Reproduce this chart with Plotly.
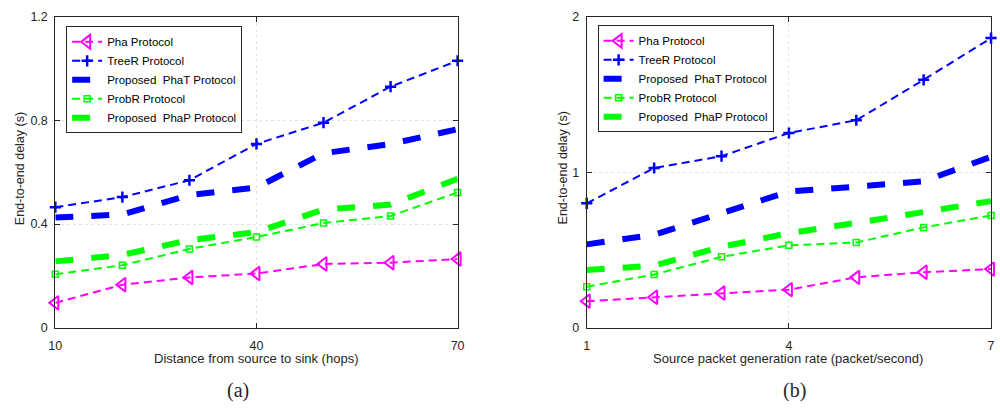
import plotly.graph_objects as go

# x values of the two experiments
hops = [10, 20, 30, 40, 50, 60, 70]
rate = [1, 2, 3, 4, 5, 6, 7]

# (a) end-to-end delay vs. distance (s)
pha_a = [0.096, 0.166, 0.194, 0.209, 0.246, 0.251, 0.265]
treer_a = [0.465, 0.504, 0.569, 0.709, 0.791, 0.930, 1.030]
phat_a = [0.425, 0.437, 0.512, 0.541, 0.673, 0.709, 0.766]
probr_a = [0.206, 0.241, 0.304, 0.350, 0.404, 0.431, 0.522]
phap_a = [0.256, 0.281, 0.338, 0.369, 0.456, 0.475, 0.575]

# (b) end-to-end delay vs. packet generation rate (s)
pha_b = [0.171, 0.196, 0.223, 0.245, 0.324, 0.357, 0.377]
treer_b = [0.800, 1.027, 1.103, 1.252, 1.334, 1.594, 1.862]
phat_b = [0.536, 0.598, 0.736, 0.876, 0.907, 0.942, 1.099]
probr_b = [0.264, 0.342, 0.456, 0.530, 0.548, 0.645, 0.722]
phap_b = [0.371, 0.400, 0.520, 0.608, 0.674, 0.742, 0.814]

names = ["Pha Protocol", "TreeR Protocol", "Proposed  PhaT Protocol",
         "ProbR Protocol", "Proposed  PhaP Protocol"]

MAG, BLUE, GREEN = "#ff00ff", "#0000ff", "#00ff00"
AX = "#262626"
FONT = "Liberation Sans, Arial, sans-serif"
SERIF = "Liberation Serif, Times New Roman, serif"

styles = [
    dict(mode="lines+markers", line=dict(color=MAG, width=2, dash="8px,5px"),
         marker=dict(symbol="triangle-left-open", size=12, color=MAG, line=dict(width=2, color=MAG))),
    dict(mode="lines+markers", line=dict(color=BLUE, width=2, dash="8px,5px"),
         marker=dict(symbol="cross-thin", size=8, color=BLUE, line=dict(width=2.5, color=BLUE))),
    dict(mode="lines", line=dict(color=BLUE, width=6, dash="dash")),
    dict(mode="lines+markers", line=dict(color=GREEN, width=2, dash="8px,5px"),
         marker=dict(symbol="square-open", size=6, color=GREEN, line=dict(width=1.5, color=GREEN))),
    dict(mode="lines", line=dict(color=GREEN, width=6, dash="dash")),
]

fig = go.Figure()

panels = [
    (hops, [pha_a, treer_a, phat_a, probr_a, phap_a], "x", "y", "legend"),
    (rate, [pha_b, treer_b, phat_b, probr_b, phap_b], "x2", "y2", "legend2"),
]
for xs, series, xa, ya, lg in panels:
    for name, ys, st in zip(names, series, styles):
        fig.add_trace(go.Scatter(x=xs, y=ys, name=name, xaxis=xa, yaxis=ya,
                                 legend=lg, cliponaxis=False, **st))

ydom = [81 / 413, 403 / 413]
axis_common = dict(
    showline=True, linecolor=AX, linewidth=1, mirror="allticks",
    ticks="inside", ticklen=5, tickcolor=AX,
    showgrid=True, gridcolor="#e2e2e2", griddash="dot", gridwidth=1,
    zeroline=False, tickfont=dict(family=FONT, size=12.5, color=AX),
)

legend_common = dict(xanchor="left", yanchor="top", bgcolor="white",
                     bordercolor=AX, borderwidth=1, tracegroupgap=0, itemwidth=30,
                     font=dict(family=FONT, size=11.5, color="#000"))

fig.update_layout(
    width=1000, height=413,
    margin=dict(l=0, r=0, t=0, b=0),
    paper_bgcolor="white", plot_bgcolor="white",
    font=dict(family=FONT, color=AX),
    xaxis=dict(domain=[49 / 1000, 457 / 1000], range=[10, 70],
               tickvals=[10, 40, 70], anchor="y", ticklabelstandoff=6, **axis_common),
    yaxis=dict(domain=ydom, range=[0, 1.2], tickvals=[0, 0.4, 0.8, 1.2],
               anchor="x", ticklabelstandoff=4, **axis_common),
    xaxis2=dict(domain=[588 / 1000, 998 / 1000], range=[1, 7],
                tickvals=[1, 4, 7], anchor="y2", ticklabelstandoff=6, **axis_common),
    yaxis2=dict(domain=ydom, range=[0, 2], tickvals=[0, 1, 2],
                anchor="x2", ticklabelstandoff=4, **axis_common),
    legend=dict(x=60 / 1000, y=1 - 20 / 413, **legend_common),
    legend2=dict(x=599 / 1000, y=1 - 19 / 413, **legend_common),
)

def note(text, x, y, size=12.5, family=FONT, angle=0):
    fig.add_annotation(text=text, x=x / 1000, y=1 - y / 413, xref="paper", yref="paper",
                       showarrow=False, textangle=angle, xanchor="center", yanchor="middle",
                       font=dict(family=family, size=size, color=AX))

note("End-to-end delay (s)", 14, 167, angle=-90)
note("End-to-end delay (s)", 564, 167, angle=-90)
note("Distance from source to sink (hops)", 253, 364, size=13)
note("Source packet generation rate (packet/second)", 792, 364, size=13)
note("(a)", 234, 397, size=20, family=SERIF)
note("(b)", 799, 397, size=20, family=SERIF)

fig.write_html("out.html")
